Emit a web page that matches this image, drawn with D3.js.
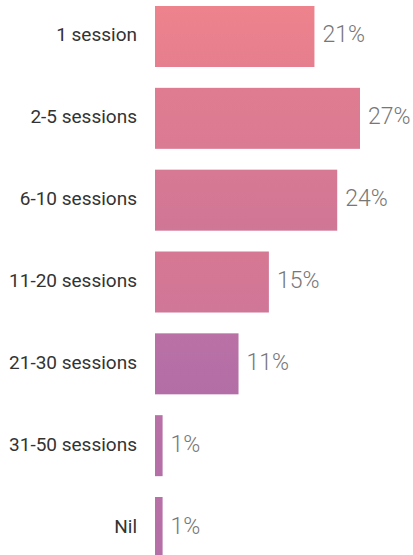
<!DOCTYPE html>
<html>
<head>
<meta charset="utf-8">
<script src="https://cdn.jsdelivr.net/npm/d3@7"></script>
<style>
  html, body { margin: 0; padding: 0; background: #fff; }
  svg { display: block; }
</style>
</head>
<body>
<svg id="chart" width="413" height="555"></svg>
<script>
// Number of sessions attended, share of respondents (%)
const categories = ["1 session", "2-5 sessions", "6-10 sessions", "11-20 sessions",
                    "21-30 sessions", "31-50 sessions", "Nil"];
const values = [21, 27, 24, 15, 11, 1, 1];

// Vertical gradient per bar: top colour, bottom colour
const topColors    = ["#ee838c", "#e07c91", "#d77993", "#d67893", "#ba71a5", "#b870a6", "#b870a6"];
const bottomColors = ["#e57e8e", "#da7a93", "#d07696", "#d07698", "#b36ea7", "#b56fa7", "#b56fa7"];

const svg = d3.select("#chart");
const defs = svg.append("defs");

const x = d3.scaleLinear().domain([0, 27]).range([155, 360]);
const y = d3.scaleBand().domain(categories).range([6, 558]).paddingInner(0.2546).paddingOuter(0);

categories.forEach((c, i) => {
  const g = defs.append("linearGradient")
    .attr("id", "grad" + i).attr("x1", 0).attr("y1", 0).attr("x2", 0).attr("y2", 1);
  g.append("stop").attr("offset", "0%").attr("stop-color", topColors[i]);
  g.append("stop").attr("offset", "100%").attr("stop-color", bottomColors[i]);
});

const rows = svg.selectAll("g.row")
  .data(categories.map((c, i) => ({ c, v: values[i], i })))
  .join("g").attr("class", "row");

rows.append("rect")
  .attr("x", x(0))
  .attr("y", d => y(d.c))
  .attr("width", d => x(d.v) - x(0))
  .attr("height", y.bandwidth())
  .attr("fill", d => `url(#grad${d.i})`);

rows.append("text")
  .attr("x", 137)
  .attr("y", d => y(d.c) + y.bandwidth() / 2 + 5)
  .attr("text-anchor", "end")
  .attr("font-family", "Roboto, sans-serif")
  .attr("font-size", 19)
  .attr("fill", "#333")
  .text(d => d.c);

rows.append("text")
  .attr("x", d => x(d.v) + 8)
  .attr("y", d => y(d.c) + y.bandwidth() / 2 + 6)
  .attr("font-family", "Roboto, sans-serif")
  .attr("font-weight", 300)
  .attr("font-size", 23)
  .attr("fill", "#777")
  .text(d => d.v + "%");
</script>
</body>
</html>
